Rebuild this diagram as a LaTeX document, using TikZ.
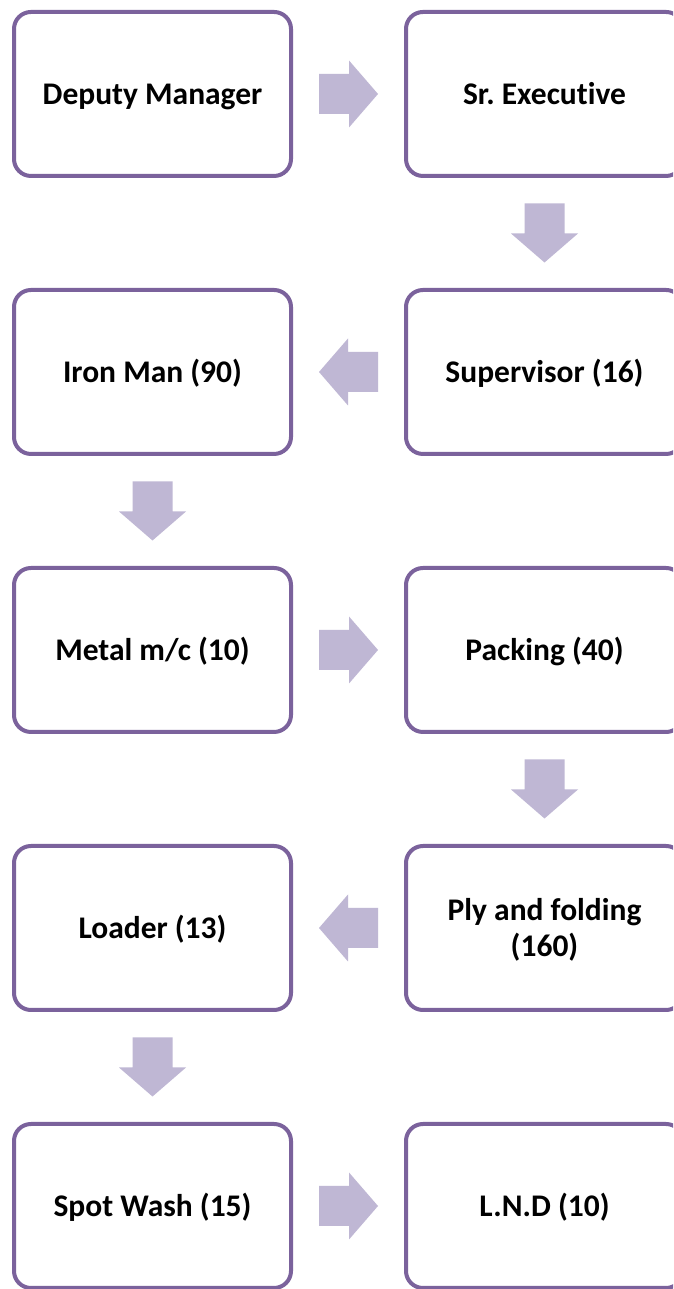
\documentclass[tikz,border=0pt]{standalone}
\usepackage{fontspec}
\setmainfont{Carlito}[Ligatures=CommonOff]
\usetikzlibrary{calc}
\definecolor{boxline}{HTML}{7B629C}
\definecolor{arrowfill}{HTML}{BFB7D4}
\frenchspacing
\tikzset{
  stepbox/.style={draw=boxline, line width=4pt, rounded corners=17pt, fill=white,
    minimum width=277pt, minimum height=164pt, align=center,
    font=\bfseries\fontsize{31.5}{36}\selectfont},
  oneline/.style={text height=24pt, text depth=3.7pt},
  blockarrow/.style={fill=arrowfill, draw=none}
}
% block arrow pointing along +x, centred at the origin of the current scope
\newcommand{\blockarrowpath}{(-29.5,-20) -- (0.5,-20) -- (0.5,-33.5) -- (29.5,0) -- (0.5,33.5) -- (0.5,20) -- (-29.5,20) -- cycle}
\begin{document}
\begin{tikzpicture}[x=1pt,y=1pt]
\useasboundingbox (0,0) rectangle (673,1289);
\clip (0,0) rectangle (673,1289);
\fill[white] (0,0) rectangle (673,1289);

\node[stepbox, oneline] (dm)  at (152.5,1195) {Deputy Manager};
\node[stepbox, oneline] (se)  at (544.5,1195) {Sr. Executive};
\node[stepbox, oneline] (sup) at (544.5,917)  {Supervisor (16)};
\node[stepbox, oneline] (im)  at (152.5,917)  {Iron Man (90)};
\node[stepbox, oneline] (mm)  at (152.5,639)  {Metal m/c (10)};
\node[stepbox, oneline] (pk)  at (544.5,639)  {Packing (40)};
\node[stepbox] (pf)  at (544.5,361)  {\raisebox{-9.5pt}[0pt][0pt]{\begin{tabular}{@{}c@{}}Ply and folding\\[0.5pt](160)\end{tabular}}};
\node[stepbox, oneline] (ld)  at (152.5,361)  {Loader (13)};
\node[stepbox, oneline] (sw)  at (152.5,83)   {Spot Wash (15)};
\node[stepbox, oneline] (lnd) at (544.5,83)   {L.N.D (10)};

% connectors: right
\fill[blockarrow, shift={($(dm.east)!0.5!(se.west)$)}] \blockarrowpath;
\fill[blockarrow, shift={($(mm.east)!0.5!(pk.west)$)}] \blockarrowpath;
\fill[blockarrow, shift={($(sw.east)!0.5!(lnd.west)$)}] \blockarrowpath;
% connectors: left
\fill[blockarrow, shift={($(sup.west)!0.5!(im.east)$)}, rotate=180] \blockarrowpath;
\fill[blockarrow, shift={($(pf.west)!0.5!(ld.east)$)}, rotate=180] \blockarrowpath;
% connectors: down
\fill[blockarrow, shift={($(se.south)!0.5!(sup.north)$)}, rotate=-90] \blockarrowpath;
\fill[blockarrow, shift={($(im.south)!0.5!(mm.north)$)}, rotate=-90] \blockarrowpath;
\fill[blockarrow, shift={($(pk.south)!0.5!(pf.north)$)}, rotate=-90] \blockarrowpath;
\fill[blockarrow, shift={($(ld.south)!0.5!(sw.north)$)}, rotate=-90] \blockarrowpath;
\end{tikzpicture}
\end{document}
